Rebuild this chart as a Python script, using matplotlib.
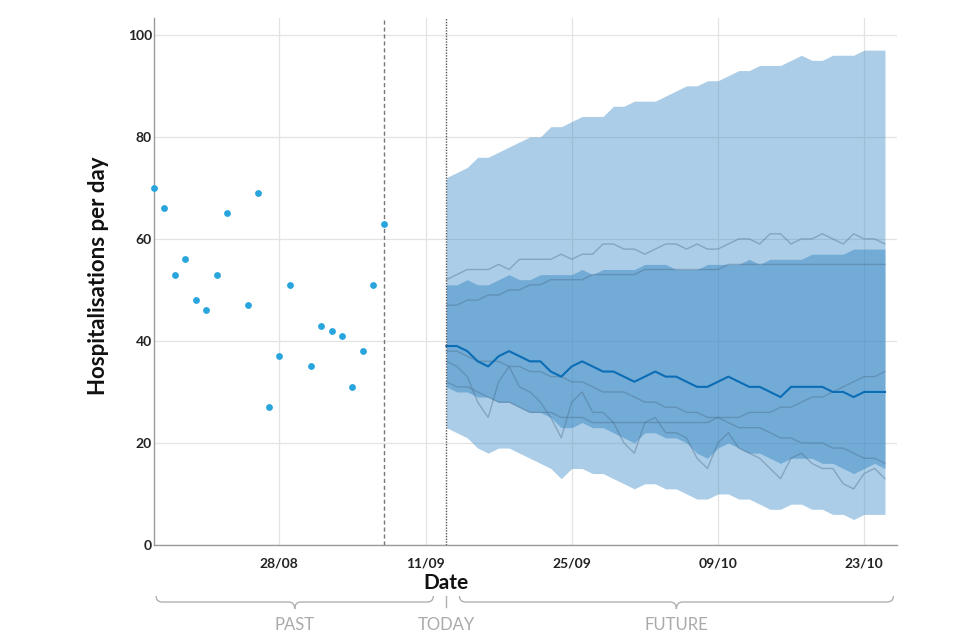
import numpy as np
import pandas as pd
import matplotlib
matplotlib.use("Agg")
import matplotlib.pyplot as plt
import matplotlib.dates as mdates
import matplotlib.transforms as mtransforms
from matplotlib.path import Path
from matplotlib.patches import PathPatch

plt.rcParams['font.family'] = ['Lato', 'DejaVu Sans']

# ---------------- data ----------------
past_dates = ['2020-08-16', '2020-08-17', '2020-08-18', '2020-08-19', '2020-08-20',
              '2020-08-21', '2020-08-22', '2020-08-23', '2020-08-25', '2020-08-26',
              '2020-08-27', '2020-08-28', '2020-08-29', '2020-08-31', '2020-09-01',
              '2020-09-02', '2020-09-03', '2020-09-04', '2020-09-05', '2020-09-06',
              '2020-09-07']
past_values = [70, 66, 53, 56, 48, 46, 53, 65, 47, 69, 27, 37, 51, 35, 43, 42, 41, 31, 38, 51, 63]

last_data_date = '2020-09-07'
today = '2020-09-13'
forecast_start = '2020-09-13'
forecast_days = 43

outer_upper = [72, 73, 74, 76, 76, 77, 78, 79, 80, 80, 82, 82, 83, 84, 84,
               84, 86, 86, 87, 87, 87, 88, 89, 90, 90, 91, 91, 92, 93,
               93, 94, 94, 94, 95, 96, 95, 95, 96, 96, 96, 97, 97, 97]
inner_upper = [51, 51, 52, 51, 51, 52, 53, 52, 52, 53, 53, 53, 53, 54, 53,
               54, 54, 54, 54, 55, 55, 55, 54, 54, 54, 55, 55, 55, 55,
               56, 55, 56, 56, 56, 56, 57, 57, 57, 57, 58, 58, 58, 58]
median = [39, 39, 38, 36, 35, 37, 38, 37, 36, 36, 34, 33, 35, 36, 35,
          34, 34, 33, 32, 33, 34, 33, 33, 32, 31, 31, 32, 33, 32,
          31, 31, 30, 29, 31, 31, 31, 31, 30, 30, 29, 30, 30, 30]
inner_lower = [31, 30, 30, 29, 29, 28, 28, 27, 26, 26, 25, 23, 23, 24, 23,
               23, 22, 21, 20, 22, 22, 21, 21, 20, 18, 17, 19, 20, 19,
               18, 18, 17, 16, 17, 17, 17, 16, 16, 15, 14, 15, 16, 15]
outer_lower = [23, 22, 21, 19, 18, 19, 19, 18, 17, 16, 15, 13, 15, 15, 14,
               14, 13, 12, 11, 12, 12, 11, 11, 10, 9, 9, 10, 10, 9,
               9, 8, 7, 7, 8, 8, 7, 7, 6, 6, 5, 6, 6, 6]

sample_1 = [52, 53, 54, 54, 54, 55, 54, 56, 56, 56, 56, 57, 56, 57, 57,
            59, 59, 58, 58, 57, 58, 59, 59, 58, 59, 58, 58, 59, 60,
            60, 59, 61, 61, 59, 60, 60, 61, 60, 59, 61, 60, 60, 59]
sample_2 = [47, 47, 48, 48, 49, 49, 50, 50, 51, 51, 52, 52, 52, 52, 53,
            53, 53, 53, 53, 54, 54, 54, 54, 54, 54, 54, 54, 55, 55,
            55, 55, 55, 55, 55, 55, 55, 55, 55, 55, 55, 55, 55, 55]
sample_3 = [38, 38, 37, 36, 36, 36, 35, 35, 34, 34, 33, 33, 32, 32, 31,
            30, 30, 30, 29, 28, 28, 27, 27, 26, 26, 25, 25, 24, 23,
            23, 23, 22, 21, 21, 20, 20, 20, 19, 19, 18, 17, 17, 16]
sample_4 = [32, 31, 31, 30, 29, 28, 28, 27, 26, 26, 26, 25, 25, 25, 24,
            24, 24, 24, 24, 24, 24, 24, 24, 24, 24, 24, 25, 25, 25,
            26, 26, 26, 27, 27, 28, 29, 29, 30, 31, 32, 33, 33, 34]
sample_5 = [36, 35, 33, 28, 25, 32, 35, 31, 30, 28, 25, 21, 28, 30, 26,
            26, 24, 20, 18, 24, 25, 22, 22, 21, 17, 15, 20, 22, 19,
            18, 17, 15, 13, 17, 18, 16, 15, 15, 12, 11, 14, 15, 13]
samples = [sample_1, sample_2, sample_3, sample_4, sample_5]

x_ticks = ['2020-08-28', '2020-09-11', '2020-09-25', '2020-10-09', '2020-10-23']
x_ticklabels = ['28/08', '11/09', '25/09', '09/10', '23/10']
y_ticks = [0, 20, 40, 60, 80, 100]

# ---------------- figure ----------------
fig = plt.figure(figsize=(9.6, 6.4), dpi=100)
ax = fig.add_axes([154 / 960, 95 / 640, 743 / 960, 527 / 640])

pdates = pd.to_datetime(past_dates)
fdates = pd.date_range(forecast_start, periods=forecast_days, freq='D')
start_num = mdates.date2num(pdates[0])
end_num = mdates.date2num(fdates[-1])
today_num = mdates.date2num(pd.Timestamp(today))

ax.set_xlim(start_num, start_num + 71.15)
ax.set_ylim(0, 103.3)

# grid
ax.set_axisbelow(True)
ax.grid(True, color='#e3e3e3', linewidth=0.9)

# fan
band_col = '#3a8ac6'
ax.fill_between(fdates, outer_lower, outer_upper, color=band_col, alpha=0.42, linewidth=0)
ax.fill_between(fdates, inner_lower, inner_upper, color=band_col, alpha=0.5, linewidth=0)

for s in samples:
    ax.plot(fdates, s, color='#4d6f8c', alpha=0.42, linewidth=1.0)
ax.plot(fdates, median, color='#0b6db5', linewidth=1.5)

# past points
ax.scatter(pdates, past_values, s=24, color='#29a5de', zorder=5, clip_on=False, linewidths=0)

# reference lines
ax.axvline(mdates.date2num(pd.Timestamp(last_data_date)), color='#777777', linestyle=(0, (3, 2)), linewidth=1.0)
ax.axvline(today_num, color='#555555', linestyle=(0, (1, 1)), linewidth=1.0)

# axes styling
for side in ['top', 'right']:
    ax.spines[side].set_visible(False)
for side in ['left', 'bottom']:
    ax.spines[side].set_color('#9a9a9a')
    ax.spines[side].set_linewidth(1.0)

ax.set_xticks(mdates.date2num(pd.to_datetime(x_ticks)))
ax.set_xticklabels(x_ticklabels)
ax.set_yticks(y_ticks)
ax.tick_params(axis='both', length=0, labelsize=10, labelcolor='#222222')
ax.tick_params(axis='x', pad=9)
ax.tick_params(axis='y', pad=1.5)
for lbl in ax.get_xticklabels() + ax.get_yticklabels():
    lbl.set_fontweight('bold')

ax.set_ylabel('Hospitalisations per day', fontsize=16, fontweight='bold', color='#111111')
ax.yaxis.set_label_coords(-0.061, 0.51)

trans = mtransforms.blended_transform_factory(ax.transData, fig.transFigure)
ax.text(today_num, 1 - 583 / 640, 'Date', transform=trans, ha='center', va='center',
        fontsize=15, fontweight='bold', color='#111111', clip_on=False)

# brackets
def fy(py):
    return 1 - py / 640

def bracket(x0, x1, label):
    rx = 0.6
    yt, ym, yb = fy(596), fy(602), fy(609)
    xc = (x0 + x1) / 2
    verts = [(x0, yt), (x0, ym), (x0 + rx, ym),
             (xc - rx, ym), (xc, ym), (xc, yb),
             (xc, ym), (xc + rx, ym),
             (x1 - rx, ym), (x1, ym), (x1, yt)]
    codes = [Path.MOVETO, Path.CURVE3, Path.CURVE3,
             Path.LINETO, Path.CURVE3, Path.CURVE3,
             Path.CURVE3, Path.CURVE3,
             Path.LINETO, Path.CURVE3, Path.CURVE3]
    patch = PathPatch(Path(verts, codes), transform=trans, facecolor='none',
                      edgecolor='#b0b0b0', linewidth=1.0, clip_on=False)
    fig.add_artist(patch)
    ax.text(xc, fy(625), label, transform=trans, ha='center', va='center',
            fontsize=12, color='#aaaaaa', clip_on=False)

bracket(start_num + 0.2, today_num - 1.25, 'PAST')
bracket(today_num + 1.25, end_num + 0.8, 'FUTURE')
ax.plot([today_num, today_num], [fy(596), fy(607)], transform=trans, color='#b0b0b0',
        linewidth=1.0, clip_on=False)
ax.text(today_num, fy(625), 'TODAY', transform=trans, ha='center', va='center',
        fontsize=12, color='#aaaaaa', clip_on=False)

fig.savefig('out.png', dpi=100)
